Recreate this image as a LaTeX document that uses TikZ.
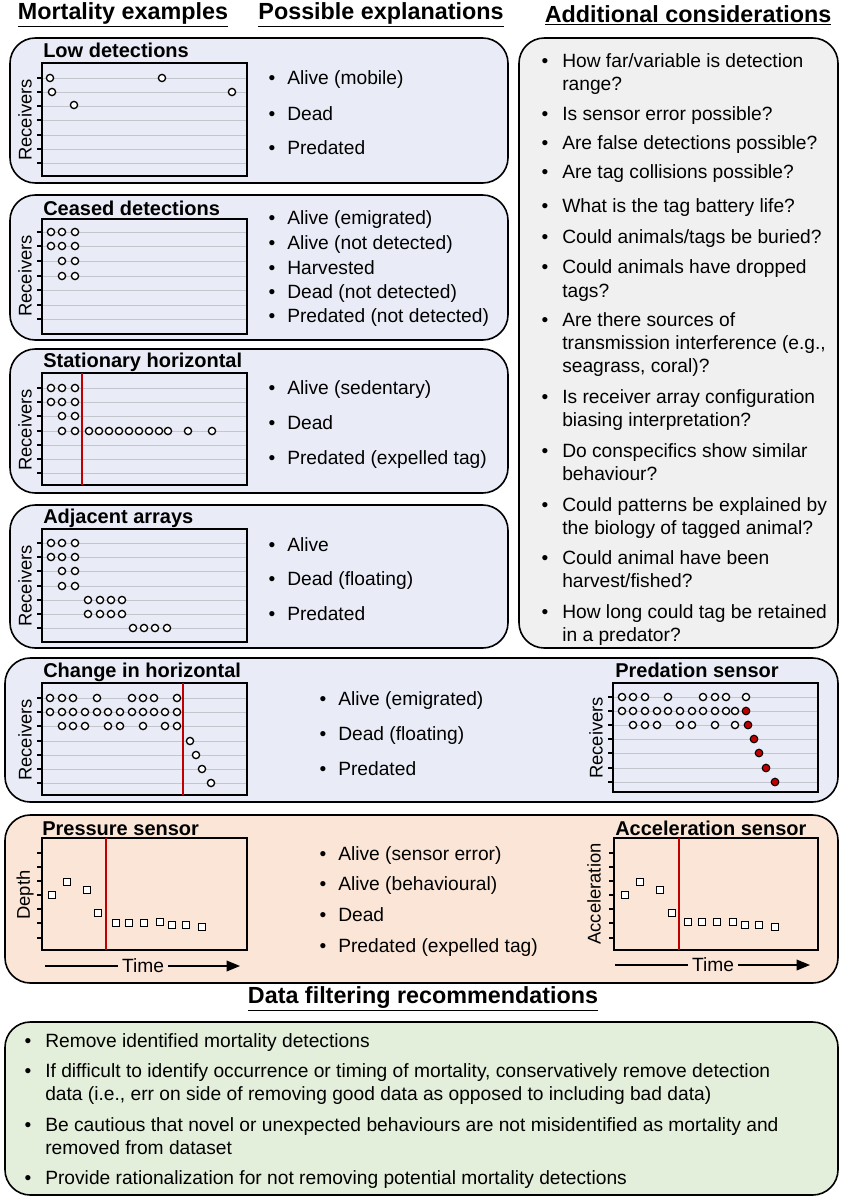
\documentclass[tikz,border=0pt]{standalone}
\usepackage{fontspec}
\setmainfont{Liberation Sans}
\usetikzlibrary{arrows.meta}
\definecolor{pblue}{HTML}{E9ECF6}
\definecolor{pgray}{HTML}{F0F0F0}
\definecolor{ppeach}{HTML}{FBE5D7}
\definecolor{pgreen}{HTML}{E3EFDA}
\definecolor{gridc}{HTML}{C4C6CE}
\definecolor{dred}{HTML}{C00000}
\newcommand\gridplot[5]{%
  \foreach \t in {#5} {\draw[gridc,line width=0.6pt] (#1,\t) -- (#3,\t); \draw[line width=0.8pt] (#1-5,\t) -- (#1,\t);}
  \draw[line width=1.3pt] (#1,#2) rectangle (#3,#4);}
\newcommand\dotc[2]{\draw[line width=1pt,fill=white] (#1,#2) circle[radius=3.6];}
\newcommand\dotr[2]{\draw[line width=0.8pt,fill=dred] (#1,#2) circle[radius=3.8];}
\newcommand\sqm[2]{\draw[line width=1pt,fill=white] (#1-3.8,#2-3.8) rectangle (#1+3.8,#2+3.8);}
\tikzset{
  panel/.style={draw,line width=1.2pt,rounded corners=19pt},
  hdr/.style={font=\fontsize{17.5}{20}\selectfont\bfseries,inner sep=0pt},
  ptitle/.style={font=\fontsize{15}{17}\selectfont\bfseries,anchor=base west,inner sep=0pt,yshift=-5.7pt},
  txt/.style={font=\fontsize{14.4}{16}\selectfont,anchor=base west,inner sep=0pt,yshift=-5.6pt},
  bul/.style={font=\fontsize{14.4}{16}\selectfont,anchor=base,inner sep=0pt,yshift=-5.6pt},
  ylab/.style={font=\fontsize{13.8}{16}\selectfont,rotate=90,inner sep=0pt},
  redl/.style={dred,line width=1.5pt},
  tarr/.style={line width=1pt,-{Triangle[length=10pt,width=8pt]}}
}
\begin{document}
\begin{tikzpicture}[x=0.75pt,y=-0.75pt]
\useasboundingbox (0,0) rectangle (846,1200);
\fill[white] (0,0) rectangle (846,1200);
% headers
\node[hdr] (h1) at (123,15) {\underline{Mortality examples}};
\node[hdr] (h2) at (381,15) {\underline{Possible explanations}};
\node[hdr] (h3) at (688,15) {\underline{Additional considerations}};
% panels
\draw[panel,fill=pblue] (10,38) rectangle (508,183);
\draw[panel,fill=pblue] (10,195) rectangle (508,340);
\draw[panel,fill=pblue] (10,349) rectangle (508,493);
\draw[panel,fill=pblue] (10,505) rectangle (508,648);
\draw[panel,fill=pgray] (519,38) rectangle (838,648);
\draw[panel,fill=pblue] (5,658) rectangle (838,802);
\draw[panel,fill=ppeach] (5,815) rectangle (838,983);
\draw[panel,fill=pgreen] (5,1022) rectangle (838,1195);
% ---- panel 1
\node[ptitle] (t1) at (43,50) {Low detections};
\gridplot{42}{63}{247}{176}{78,92,106,120,135,149,163}
\node[ylab] (y1) at (25,120) {Receivers};
\dotc{50}{78}\dotc{52}{92}\dotc{74}{105}\dotc{162}{78}\dotc{232}{92}
\node[bul] (b1a) at (272,77) {•}; \node[txt] (e1a) at (287,77) {Alive (mobile)};
\node[bul] (b1b) at (272,113) {•}; \node[txt] (e1b) at (287,113) {Dead};
\node[bul] (b1c) at (272,147) {•}; \node[txt] (e1c) at (287,147) {Predated};
% ---- panel 2
\node[ptitle] (t2) at (43,208) {Ceased detections};
\gridplot{42}{219}{247}{334}{232,246,261,276,290,305,319}
\node[ylab] (y2) at (25,276) {Receivers};
\foreach \x in {51,62,75}{\dotc{\x}{232}\dotc{\x}{246}}
\foreach \x in {62,75}{\dotc{\x}{261}\dotc{\x}{276}}
\node[bul] (b2a) at (272,217) {•}; \node[txt] (e2a) at (287,217) {Alive (emigrated)};
\node[bul] (b2b) at (272,242) {•}; \node[txt] (e2b) at (287,242) {Alive (not detected)};
\node[bul] (b2c) at (272,267) {•}; \node[txt] (e2c) at (287,267) {Harvested};
\node[bul] (b2d) at (272,291) {•}; \node[txt] (e2d) at (287,291) {Dead (not detected)};
\node[bul] (b2e) at (272,315) {•}; \node[txt] (e2e) at (287,315) {Predated (not detected)};
% ---- panel 3
\node[ptitle] (t3) at (43,360) {Stationary horizontal};
\gridplot{42}{373}{247}{485}{388,402,416,431,445,459,473}
\node[ylab] (y3) at (25,430) {Receivers};
\draw[redl] (82,373) -- (82,485);
\foreach \x in {51,62,75}{\dotc{\x}{388}\dotc{\x}{402}}
\foreach \x in {62,75}{\dotc{\x}{416}\dotc{\x}{431}}
\foreach \x in {89,99,109,119,129,139,149,159,168,188,212}{\dotc{\x}{431}}
\node[bul] (b3a) at (272,387) {•}; \node[txt] (e3a) at (287,387) {Alive (sedentary)};
\node[bul] (b3b) at (272,422) {•}; \node[txt] (e3b) at (287,422) {Dead};
\node[bul] (b3c) at (272,457) {•}; \node[txt] (e3c) at (287,457) {Predated (expelled tag)};
% ---- panel 4
\node[ptitle] (t4) at (43,516) {Adjacent arrays};
\gridplot{42}{529}{247}{642}{543,557,571,586,600,614,628}
\node[ylab] (y4) at (25,586) {Receivers};
\foreach \x in {51,62,75}{\dotc{\x}{543}\dotc{\x}{557}}
\foreach \x in {62,75}{\dotc{\x}{571}\dotc{\x}{586}}
\foreach \x in {88,100,111,122}{\dotc{\x}{600}\dotc{\x}{614}}
\foreach \x in {133,144,155,167}{\dotc{\x}{628}}
\node[bul] (b4a) at (272,544) {•}; \node[txt] (e4a) at (287,544) {Alive};
\node[bul] (b4b) at (272,578) {•}; \node[txt] (e4b) at (287,578) {Dead (floating)};
\node[bul] (b4c) at (272,613) {•}; \node[txt] (e4c) at (287,613) {Predated};
% ---- right panel
\foreach \yy/\tx [count=\i] in {60/{How far/variable is detection}, 83/range?, 113/Is sensor error possible?, 142/Are false detections possible?, 171/Are tag collisions possible?, 205/What is the tag battery life?, 236/{Could animals/tags be buried?}, 266/Could animals have dropped, 290/tags?, 319/Are there sources of, 342/{transmission interference (e.g.,}, 365/{seagrass, coral)?}, 396/Is receiver array configuration, 419/biasing interpretation?, 450/Do conspecifics show similar, 473/behaviour?, 504/Could patterns be explained by, 527/the biology of tagged animal?, 557/Could animal have been, 580/{harvest/fished?}, 611/How long could tag be retained, 634/in a predator?}
  {\node[txt] (ac\i) at (562,\yy) {\tx};}
\foreach \yy [count=\i] in {60,113,142,171,205,236,266,319,396,450,504,557,611}
  {\node[bul] (acb\i) at (545,\yy) {•};}
% ---- panel 5
\node[ptitle] (t5) at (43,670) {Change in horizontal};
\gridplot{42}{683}{247}{795}{698,712,726,741,755,769,783}
\node[ylab] (y5) at (25,740) {Receivers};
\draw[redl] (183,683) -- (183,795);
\foreach \x in {50,62,73,97,132,143,154,177}{\dotc{\x}{698}}
\foreach \x in {50,62,73,85,97,108,120,132,143,154,165,177}{\dotc{\x}{712}}
\foreach \x in {62,73,85,108,120,143,165,177}{\dotc{\x}{726}}
\dotc{190}{741}\dotc{196}{755}\dotc{202}{769}\dotc{211}{783}
\node[bul] (b5a) at (323,698) {•}; \node[txt] (e5a) at (338,698) {Alive (emigrated)};
\node[bul] (b5b) at (323,733) {•}; \node[txt] (e5b) at (338,733) {Dead (floating)};
\node[bul] (b5c) at (323,768) {•}; \node[txt] (e5c) at (338,768) {Predated};
\node[ptitle] (t6) at (615,670) {Predation sensor};
\gridplot{613}{683}{818}{792}{697,711,725,739,753,768,782}
\node[ylab] (y6) at (596,738) {Receivers};
\foreach \x in {622,633,645,668,703,715,726,746}{\dotc{\x}{697}}
\foreach \x in {622,633,645,657,668,680,692,703,715,726,735}{\dotc{\x}{711}}
\dotr{746}{711}
\foreach \x in {633,645,657,680,692,715,735}{\dotc{\x}{725}}
\dotr{748}{725}\dotr{754}{739}\dotr{759}{753}\dotr{766}{768}\dotr{775}{782}
% ---- panel 6
\node[ptitle] (t7) at (42,828) {Pressure sensor};
\draw[line width=1.3pt] (42,838) rectangle (247,950);
\foreach \t in {853,867,881,895,909,923,938}{\draw[line width=0.8pt] (37,\t) -- (42,\t);}
\node[ylab] (y7) at (25,895) {Depth};
\draw[redl] (106,838) -- (106,950);
\foreach \x/\yy in {52/895,67/882,87/890,98/913,116/923,129/923,144/923,160/922,172/925,186/925,202/927}{\sqm{\x}{\yy}}
\node[txt,anchor=center,yshift=5.6pt,inner xsep=3pt] (tm1) at (143,966) {Time};
\coordinate (a1s) at (45,966); \coordinate (a1e) at (240,966);
\draw[line width=1pt] (a1s) -- (tm1.west);
\draw[tarr] (tm1.east) -- (a1e);
\node[bul] (b6a) at (323,853) {•}; \node[txt] (e6a) at (338,853) {Alive (sensor error)};
\node[bul] (b6b) at (323,883) {•}; \node[txt] (e6b) at (338,883) {Alive (behavioural)};
\node[bul] (b6c) at (323,914) {•}; \node[txt] (e6c) at (338,914) {Dead};
\node[bul] (b6d) at (323,945) {•}; \node[txt] (e6d) at (338,945) {Predated (expelled tag)};
\node[ptitle] (t8) at (615,828) {Acceleration sensor};
\draw[line width=1.3pt] (614,838) rectangle (818,950);
\foreach \t in {853,867,881,895,909,923,938}{\draw[line width=0.8pt] (609,\t) -- (614,\t);}
\node[ylab] (y8) at (594,894) {Acceleration};
\draw[redl] (679,838) -- (679,950);
\foreach \x/\yy in {625/895,640/882,660/890,672/913,688/922,702/922,717/922,733/922,745/925,759/925,775/927}{\sqm{\x}{\yy}}
\node[txt,anchor=center,yshift=5.6pt,inner xsep=3pt] (tm2) at (713,965) {Time};
\coordinate (a2s) at (615,965); \coordinate (a2e) at (810,965);
\draw[line width=1pt] (a2s) -- (tm2.west);
\draw[tarr] (tm2.east) -- (a2e);
% ---- data filtering
\node[hdr] (h4) at (423,999) {\underline{Data filtering recommendations}};
\foreach \yy/\tx [count=\i] in {1040/Remove identified mortality detections, 1070/{If difficult to identify occurrence or timing of mortality, conservatively remove detection}, 1093/{data (i.e., err on side of removing good data as opposed to including bad data)}, 1124/Be cautious that novel or unexpected behaviours are not misidentified as mortality and, 1147/removed from dataset, 1177/Provide rationalization for not removing potential mortality detections}
  {\node[txt] (df\i) at (45,\yy) {\tx};}
\foreach \yy [count=\i] in {1040,1070,1124,1177}{\node[bul] (dfb\i) at (28,\yy) {•};}
\end{tikzpicture}
\end{document}
